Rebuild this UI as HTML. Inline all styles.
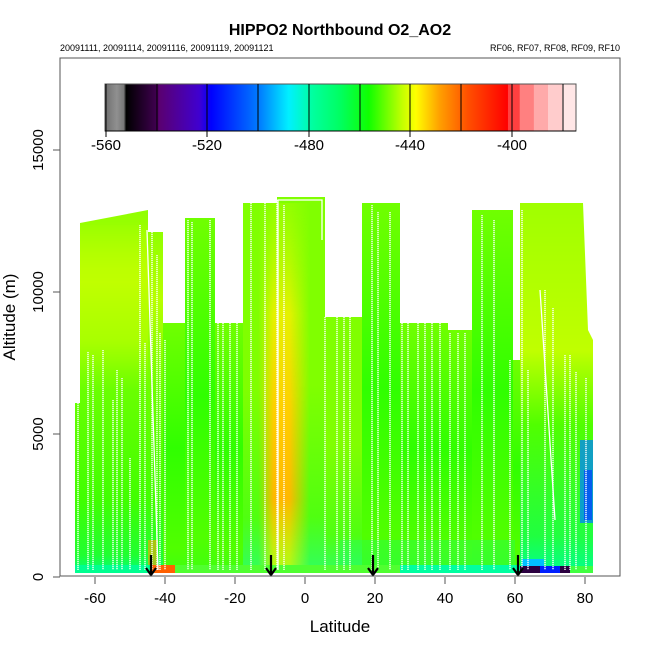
<!DOCTYPE html>
<html><head><meta charset="utf-8"><style>body{margin:0;background:#fff}svg{display:block}</style></head><body>
<svg width="650" height="650" viewBox="0 0 650 650" xmlns="http://www.w3.org/2000/svg" font-family="Liberation Sans, sans-serif">
<defs>
<linearGradient id="cb" x1="105" x2="576" gradientUnits="userSpaceOnUse">
<stop offset="0" stop-color="#6e6e6e"/><stop offset="0.025" stop-color="#909090"/><stop offset="0.04" stop-color="#777"/>
<stop offset="0.045" stop-color="#000"/><stop offset="0.11" stop-color="#400050"/><stop offset="0.115" stop-color="#5a0070"/>
<stop offset="0.2" stop-color="#4000d0"/><stop offset="0.225" stop-color="#0000ff"/><stop offset="0.33" stop-color="#0080ff"/>
<stop offset="0.39" stop-color="#00f0ff"/><stop offset="0.44" stop-color="#00ffa0"/><stop offset="0.5" stop-color="#00ff60"/>
<stop offset="0.56" stop-color="#10ff00"/><stop offset="0.63" stop-color="#c0ff00"/><stop offset="0.66" stop-color="#ffff00"/>
<stop offset="0.71" stop-color="#ffa000"/><stop offset="0.77" stop-color="#ff5000"/><stop offset="0.855" stop-color="#ff0000"/>
<stop offset="0.856" stop-color="#ff4040"/><stop offset="0.88" stop-color="#ff4040"/><stop offset="0.881" stop-color="#ff8080"/>
<stop offset="0.91" stop-color="#ff8080"/><stop offset="0.911" stop-color="#ffaaaa"/><stop offset="0.94" stop-color="#ffaaaa"/>
<stop offset="0.941" stop-color="#ffcccc"/><stop offset="0.97" stop-color="#ffcccc"/><stop offset="0.971" stop-color="#ffe6e6"/><stop offset="1" stop-color="#ffe6e6"/>
</linearGradient>
<linearGradient id="gL" x1="0" y1="0" x2="0" y2="1"><stop offset="0" stop-color="#90ff00"/><stop offset="0.2" stop-color="#b8ff00"/><stop offset="0.45" stop-color="#70ff00"/><stop offset="0.8" stop-color="#40ff00"/><stop offset="0.95" stop-color="#20ff30"/><stop offset="1" stop-color="#00ff80"/></linearGradient>
<linearGradient id="gG" x1="0" y1="0" x2="0" y2="1"><stop offset="0" stop-color="#70ff00"/><stop offset="0.5" stop-color="#30ff00"/><stop offset="0.9" stop-color="#50ff00"/><stop offset="1" stop-color="#40ff10"/></linearGradient>
<linearGradient id="gY" x1="0" y1="0" x2="0" y2="1"><stop offset="0" stop-color="#c0ff00" stop-opacity="0.3"/><stop offset="0.3" stop-color="#f0f000" stop-opacity="0.9"/><stop offset="0.55" stop-color="#ffd000" stop-opacity="1"/><stop offset="0.8" stop-color="#ffb800" stop-opacity="1"/><stop offset="1" stop-color="#e0ff00" stop-opacity="0.7"/></linearGradient>
<linearGradient id="gR" x1="0" y1="0" x2="0" y2="1"><stop offset="0" stop-color="#a0ff00"/><stop offset="0.4" stop-color="#c0ff00"/><stop offset="0.6" stop-color="#50ff00"/><stop offset="0.9" stop-color="#20ff40"/><stop offset="1" stop-color="#00ff90"/></linearGradient>
<linearGradient id="gM" x1="0" y1="0" x2="0" y2="1"><stop offset="0" stop-color="#80ff00"/><stop offset="0.5" stop-color="#80ff00"/><stop offset="0.85" stop-color="#50ff10"/><stop offset="1" stop-color="#30ff60"/></linearGradient>
<linearGradient id="yb" x1="0" x2="1"><stop offset="0" stop-color="#fff" stop-opacity="0"/><stop offset="0.3" stop-color="#fff" stop-opacity="1"/><stop offset="0.6" stop-color="#fff" stop-opacity="1"/><stop offset="1" stop-color="#fff" stop-opacity="0"/></linearGradient>
<linearGradient id="lb" x1="0" y1="0" x2="0" y2="1"><stop offset="0" stop-color="#fff" stop-opacity="0"/><stop offset="0.3" stop-color="#fff" stop-opacity="1"/><stop offset="0.7" stop-color="#fff" stop-opacity="1"/><stop offset="1" stop-color="#fff" stop-opacity="0"/></linearGradient>
<mask id="m1"><rect x="258" y="190" width="52" height="390" fill="url(#yb)"/></mask>
<mask id="m2"><rect x="75" y="220" width="80" height="170" fill="url(#lb)"/></mask>
</defs>
<text x="340" y="35" text-anchor="middle" font-size="16" font-weight="bold">HIPPO2 Northbound O2_AO2</text>
<text x="60" y="51" font-size="9">20091111, 20091114, 20091116, 20091119, 20091121</text>
<text x="620" y="51" font-size="9" text-anchor="end">RF06, RF07, RF08, RF09, RF10</text>
<g>
<polygon fill="url(#gL)" points="80,223 148,210 148,573 75,573 75,403 80,403"/>
<rect x="148" y="232" width="15" height="341" fill="url(#gL)"/>
<rect x="163" y="323" width="22" height="250" fill="url(#gG)"/>
<rect x="185" y="218" width="30" height="355" fill="url(#gG)"/>
<rect x="215" y="323" width="28" height="250" fill="url(#gG)"/>
<rect x="243" y="203" width="34" height="370" fill="url(#gM)"/>
<rect x="277" y="197" width="48" height="376" fill="url(#gM)"/>
<rect x="258" y="203" width="52" height="370" fill="url(#gY)" mask="url(#m1)"/>
<rect x="325" y="317" width="37" height="256" fill="url(#gM)"/>
<rect x="362" y="203" width="38" height="370" fill="url(#gG)"/>
<rect x="400" y="323" width="48" height="250" fill="url(#gG)"/>
<rect x="448" y="330" width="24" height="243" fill="url(#gG)"/>
<rect x="472" y="210" width="41" height="363" fill="url(#gG)"/>
<rect x="513" y="360" width="7" height="213" fill="url(#gG)"/>
<polygon fill="url(#gR)" points="520,203 583,203 588,330 593,340 593,573 520,573"/>
<rect x="80" y="225" width="68" height="165" fill="#c8ff00" opacity="0.5" mask="url(#m2)"/>
<rect x="340" y="540" width="175" height="33" fill="#20ff60" opacity="0.35"/>
<rect x="580" y="440" width="13" height="83" fill="#0080ff" opacity="0.75"/>
<rect x="584" y="470" width="8" height="50" fill="#0040ff" opacity="0.7"/>
<rect x="148" y="540" width="10" height="25" fill="#ffa000" opacity="0.6"/>
<rect x="150" y="565" width="25" height="8" fill="#ff6000"/>
<rect x="75" y="565" width="75" height="8" fill="#00ff90"/>
<rect x="175" y="565" width="340" height="8" fill="#50ff30"/>
<rect x="400" y="565" width="120" height="8" fill="#00ffa0"/>
<rect x="520" y="566" width="50" height="7" fill="#2a0040"/>
<rect x="540" y="566" width="20" height="7" fill="#0020ff"/>
<rect x="522" y="559" width="22" height="7" fill="#00c0ff"/>
<rect x="570" y="566" width="23" height="7" fill="#40ff40"/>
</g>
<g stroke="#fff" stroke-width="1.4" stroke-dasharray="1.2,0.8" fill="none">
<path d="M78,403V570M88,352V570M93,355V570M103,350V570M113,400V570M117,370V570M122,378V570M130,458V570M140,225V570M145,343V570M152,230V570M157,255V570M160,333V570M165,340V570M188,220V570M192,222V570M210,220V570M218,323V570M223,323V570M230,323V570M237,323V570M251,203V570M265,203V570M277,200V570M284,205V570M325,317V570M337,317V570M344,317V570M350,317V570M372,205V570M378,212V570M390,212V570M402,323V570M408,323V570M418,323V570M425,323V570M432,323V570M440,323V570M450,333V570M458,333V570M465,333V570M482,215V570M494,220V570M510,360V570M522,210V570M528,370V570M545,290V570M553,308V570M565,355V570M570,355V570M576,372V570M586,378V570"/>
</g>
<g stroke="#fff" stroke-width="1.3" fill="none"><path d="M278,570V200H322V240M540,290L555,520M147,230L158,570"/></g>
<g stroke="#000" stroke-width="2.2" fill="none">
<path d="M151,555V575M146,568L151,575L156,568M271,555V575M266,568L271,575L276,568M373,555V575M368,568L373,575L378,568M518,555V575M513,568L518,575L523,568"/>
</g>
<rect x="60" y="58" width="560" height="518" fill="none" stroke="#555" stroke-width="1"/>
<rect x="105" y="84" width="471" height="47" fill="url(#cb)" stroke="#555" stroke-width="1"/>
<g stroke="#000" stroke-width="1"><path d="M106,84V137M157,84V131M207,84V137M258,84V131M309,84V137M360,84V131M410,84V137M461,84V131M512,84V137M563,84V131"/><path d="M105,131H576"/></g>
<g font-size="15" text-anchor="middle"><text x="106" y="150">-560</text><text x="207" y="150">-520</text><text x="309" y="150">-480</text><text x="410" y="150">-440</text><text x="512" y="150">-400</text></g>
<g stroke="#555" stroke-width="1"><path d="M53,150H60M53,292H60M53,434H60M53,577H60"/>
<path d="M95,577V584M165,577V584M235,577V584M305,577V584M375,577V584M445,577V584M515,577V584M585,577V584"/></g>
<g font-size="15" text-anchor="middle">
<text transform="translate(43,150) rotate(-90)">15000</text><text transform="translate(43,292) rotate(-90)">10000</text><text transform="translate(43,434) rotate(-90)">5000</text><text transform="translate(43,577) rotate(-90)">0</text>
<text x="95" y="603">-60</text><text x="165" y="603">-40</text><text x="235" y="603">-20</text><text x="305" y="603">0</text><text x="375" y="603">20</text><text x="445" y="603">40</text><text x="515" y="603">60</text><text x="585" y="603">80</text>
<text x="340" y="632" font-size="17">Latitude</text>
<text transform="translate(15,317) rotate(-90)" font-size="17">Altitude (m)</text>
</g>
</svg>
</body></html>
